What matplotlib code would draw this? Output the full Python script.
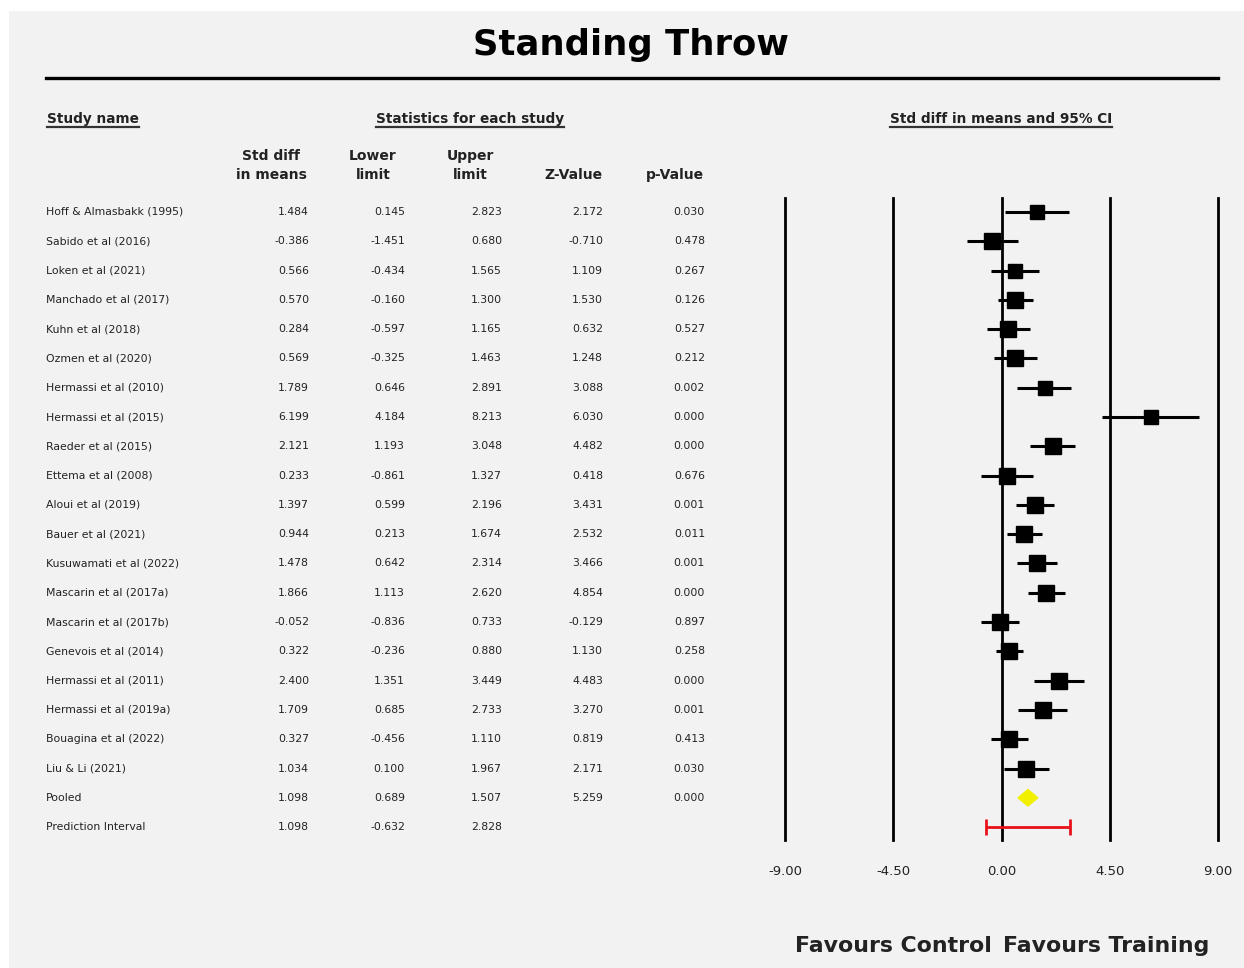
import matplotlib
matplotlib.use("Agg")
import matplotlib.pyplot as plt
from matplotlib.lines import Line2D
from matplotlib.patches import Rectangle, Polygon

studies = [
    "Hoff & Almasbakk (1995)",
    "Sabido et al (2016)",
    "Loken et al (2021)",
    "Manchado et al (2017)",
    "Kuhn et al (2018)",
    "Ozmen et al (2020)",
    "Hermassi et al (2010)",
    "Hermassi et al (2015)",
    "Raeder et al (2015)",
    "Ettema et al (2008)",
    "Aloui et al (2019)",
    "Bauer et al (2021)",
    "Kusuwamati et al (2022)",
    "Mascarin et al (2017a)",
    "Mascarin et al (2017b)",
    "Genevois et al (2014)",
    "Hermassi et al (2011)",
    "Hermassi et al (2019a)",
    "Bouagina et al (2022)",
    "Liu & Li (2021)",
]
smd = [1.484, -0.386, 0.566, 0.570, 0.284, 0.569, 1.789, 6.199, 2.121, 0.233,
       1.397, 0.944, 1.478, 1.866, -0.052, 0.322, 2.400, 1.709, 0.327, 1.034]
lower = [0.145, -1.451, -0.434, -0.160, -0.597, -0.325, 0.646, 4.184, 1.193, -0.861,
         0.599, 0.213, 0.642, 1.113, -0.836, -0.236, 1.351, 0.685, -0.456, 0.100]
upper = [2.823, 0.680, 1.565, 1.300, 1.165, 1.463, 2.891, 8.213, 3.048, 1.327,
         2.196, 1.674, 2.314, 2.620, 0.733, 0.880, 3.449, 2.733, 1.110, 1.967]
zval = [2.172, -0.710, 1.109, 1.530, 0.632, 1.248, 3.088, 6.030, 4.482, 0.418,
        3.431, 2.532, 3.466, 4.854, -0.129, 1.130, 4.483, 3.270, 0.819, 2.171]
pval = [0.030, 0.478, 0.267, 0.126, 0.527, 0.212, 0.002, 0.000, 0.000, 0.676,
        0.001, 0.011, 0.001, 0.000, 0.897, 0.258, 0.000, 0.001, 0.413, 0.030]
weights = [0.88, 0.95, 0.92, 1.0, 1.0, 1.0, 0.92, 0.85, 0.95, 0.95,
           0.95, 1.0, 0.95, 1.0, 0.95, 1.05, 0.95, 0.95, 1.05, 0.95]

pooled = [1.098, 0.689, 1.507, 5.259, 0.000]
pred_interval = [1.098, -0.632, 2.828]
xticks = [-9.0, -4.5, 0.0, 4.5, 9.0]

W, H = 1244, 968
TXT = "#222222"
plt.rcParams["font.family"] = "DejaVu Sans"

fig = plt.figure(figsize=(W / 100, H / 100), dpi=100, facecolor="white")
fig.add_artist(Rectangle((9 / W, 0), 1, 1 - 11 / H, transform=fig.transFigure,
                         facecolor="#f2f2f2", edgecolor="none", zorder=0))


def fx(px):
    return px / W


def fy(py):
    return 1 - py / H


# title
fig.text(fx(631), fy(45), "Standing Throw", ha="center", va="center",
         fontsize=25.5, fontweight="bold", color="black")
fig.add_artist(Line2D([fx(46), fx(1218)], [fy(78), fy(78)], color="black", lw=2.4))

row_h = 29.29
top_px, bot_px = 198, 840
y_top = -(212 - top_px) / row_h
y_bot = (bot_px - 212) / row_h
ax_rect_b = 1 - bot_px / H
ax_rect_h = (bot_px - top_px) / H

ax_t = fig.add_axes([0, ax_rect_b, 1, ax_rect_h])
ax_t.set_xlim(0, W)
ax_t.set_ylim(y_bot, y_top)
ax_t.axis("off")

ax_f = fig.add_axes([fx(785), ax_rect_b, fx(1218) - fx(785), ax_rect_h], sharey=ax_t)
ax_f.set_xlim(-9, 9)
ax_f.patch.set_alpha(0)
for s in ax_f.spines.values():
    s.set_visible(False)
ax_f.set_yticks([])
ax_f.set_xticks(xticks)
ax_f.set_xticklabels([f"{t:.2f}" for t in xticks])
ax_f.tick_params(axis="x", length=0, pad=18, labelsize=9.5, labelcolor=TXT)

for t in xticks:
    ax_f.axvline(t, color="black", lw=2.0, zorder=1, clip_on=False)

# table text
col_right = [309, 405, 502, 603, 705]
fs = 7.8
labels = studies + ["Pooled", "Prediction Interval"]
rows = [[a, b, c, d, e] for a, b, c, d, e in zip(smd, lower, upper, zval, pval)]
rows.append(pooled)
rows.append(pred_interval)
for i, (name, vals) in enumerate(zip(labels, rows)):
    ax_t.text(46, i, name, ha="left", va="center", fontsize=fs, color=TXT)
    for xr, v in zip(col_right, vals):
        ax_t.text(xr, i, f"{v:.3f}", ha="right", va="center", fontsize=fs, color=TXT)

# headers
hdr_y = -(212 - 119) / row_h
heads = []
heads.append(ax_t.text(47, hdr_y, "Study name", ha="left", va="center",
                       fontsize=9.8, fontweight="bold", color=TXT))
heads.append(ax_t.text(470, hdr_y, "Statistics for each study", ha="center",
                       va="center", fontsize=9.8, fontweight="bold", color=TXT))
heads.append(ax_t.text(1001, hdr_y, "Std diff in means and 95% CI", ha="center",
                       va="center", fontsize=9.8, fontweight="bold", color=TXT))

col_heads = [("Std diff", "in means", 271), ("Lower", "limit", 373),
             ("Upper", "limit", 470), ("", "Z-Value", 573), ("", "p-Value", 675)]
l1_y = -(212 - 156) / row_h
l2_y = -(212 - 175) / row_h
for t1, t2, xc in col_heads:
    if t1:
        ax_t.text(xc, l1_y, t1, ha="center", va="center", fontsize=10,
                  fontweight="bold", color=TXT)
    ax_t.text(xc, l2_y, t2, ha="center", va="center", fontsize=10,
              fontweight="bold", color=TXT)

# forest marks
ys = list(range(len(studies)))
ax_f.hlines(ys, lower, upper, color="black", lw=2.2, zorder=3)
for y, e, w in zip(ys, smd, weights):
    ax_f.plot(e, y, marker="s", color="black", markersize=11.5 * w, zorder=4)

py = len(studies)
est, lo, hi = pooled[0], pooled[1], pooled[2]
ax_f.add_patch(Polygon([(lo, py), (est, py - 0.28), (hi, py), (est, py + 0.28)],
                       closed=True, facecolor="#f0f000", edgecolor="#f0f000", zorder=4))

pi_y = py + 1
ax_f.errorbar(pred_interval[0], pi_y,
              xerr=[[pred_interval[0] - pred_interval[1]], [pred_interval[2] - pred_interval[0]]],
              fmt="none", ecolor="#e8101a", elinewidth=2, capsize=6, capthick=2, zorder=4)

# favours labels
fig.text(fx(893), fy(946), "Favours Control", ha="center", va="center",
         fontsize=15.8, fontweight="bold", color=TXT)
fig.text(fx(1106), fy(946), "Favours Training", ha="center", va="center",
         fontsize=15.8, fontweight="bold", color=TXT)

# underline headers
renderer = fig.canvas.get_renderer()
for h in heads:
    bb = h.get_window_extent(renderer=renderer)
    yline = bb.y0 - 1
    fig.add_artist(Line2D([bb.x0 / W, bb.x1 / W], [yline / H, yline / H],
                          color="#333333", lw=1.6))

fig.savefig("out.png", dpi=100, facecolor="white")
